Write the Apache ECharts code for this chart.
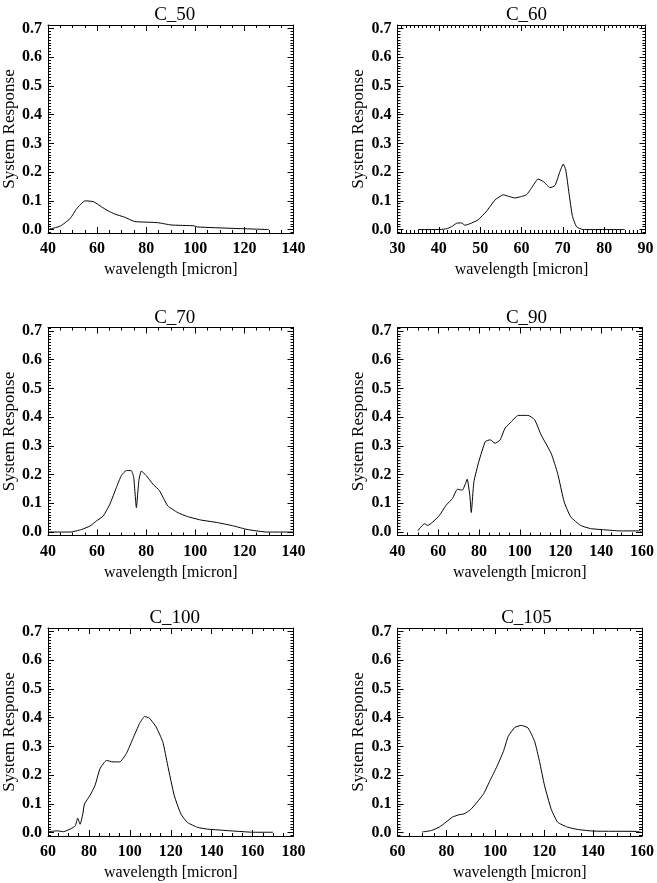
<!DOCTYPE html>
<html>
<head>
<meta charset="utf-8">
<script src="https://cdn.jsdelivr.net/npm/echarts@6/dist/echarts.min.js"></script>
<style>
html,body{margin:0;padding:0;background:#fff;}
#c{width:657px;height:883px;}
</style>
</head>
<body>
<div id="c"></div>
<script>
// ---- data ----
var titles = ['C_50', 'C_60', 'C_70', 'C_90', 'C_100', 'C_105'];

var c50_x = [40, 45, 49, 51.7, 55.1, 58.5, 61.8, 64.5, 67.2, 71.2, 75.3, 84.7, 90.1, 99.5, 100.9, 115.7, 130];
var c50_y = [0.0, 0.012, 0.038, 0.073, 0.100, 0.097, 0.079, 0.065, 0.054, 0.043, 0.028, 0.024, 0.016, 0.013, 0.009, 0.004, 0.0];

var c60_x = [35, 40.3, 41.9, 43.1, 44.3, 45.5, 46.3, 47.5, 49.5, 51.5, 53.6, 55.6, 56.8, 58.4, 60.0, 61.2, 62.4, 64.0, 65.3, 66.9, 68.1, 69.3, 70.1, 70.7, 71.5, 72.3, 73.3, 74.9, 85];
var c60_y = [0.0, 0.0, 0.003, 0.010, 0.022, 0.023, 0.015, 0.020, 0.034, 0.063, 0.103, 0.121, 0.116, 0.110, 0.115, 0.121, 0.144, 0.176, 0.167, 0.146, 0.153, 0.202, 0.228, 0.208, 0.126, 0.048, 0.010, 0.0, 0.0];

var c70_x = [40, 49, 53.7, 57.1, 59.8, 62.5, 65.2, 67.9, 69.9, 71.9, 73.9, 74.9, 76.0, 77.0, 78.0, 80.0, 82.7, 85.4, 88.8, 92.8, 96.8, 102.2, 109.0, 115.7, 121.1, 129.2, 140];
var c70_y = [0.0, 0.0, 0.009, 0.021, 0.039, 0.056, 0.097, 0.156, 0.197, 0.214, 0.214, 0.191, 0.085, 0.179, 0.212, 0.197, 0.167, 0.144, 0.091, 0.068, 0.054, 0.042, 0.033, 0.021, 0.009, 0.0, 0.0];

var c90_x = [50, 51.5, 53.3, 54.9, 57.3, 60.6, 63.8, 67.0, 69.4, 71.8, 73.4, 74.2, 75.5, 76.2, 77.5, 79.9, 83.1, 85.5, 87.9, 90.4, 92.8, 96.0, 99.2, 104.1, 107.3, 110.5, 115.4, 118.6, 121.8, 125.0, 129.9, 134.7, 141.2, 149.2, 158.9, 160];
var c90_y = [0.005, 0.018, 0.029, 0.023, 0.035, 0.058, 0.093, 0.117, 0.149, 0.146, 0.169, 0.184, 0.128, 0.068, 0.175, 0.245, 0.315, 0.321, 0.309, 0.321, 0.362, 0.385, 0.406, 0.406, 0.391, 0.338, 0.274, 0.204, 0.105, 0.053, 0.023, 0.012, 0.008, 0.004, 0.004, 0.0];

var c100_x = [60.5, 64.4, 67.6, 70.8, 73.3, 74.5, 75.7, 77.0, 77.8, 80.5, 83.0, 85.4, 88.6, 91.8, 95.1, 98.3, 101.5, 104.8, 107.2, 109.6, 112.8, 116.1, 118.5, 121.7, 125.0, 128.2, 133.1, 137.9, 149.2, 160.5, 170];
var c100_y = [0.003, 0.006, 0.003, 0.012, 0.023, 0.050, 0.029, 0.064, 0.099, 0.129, 0.164, 0.222, 0.251, 0.246, 0.246, 0.275, 0.327, 0.380, 0.404, 0.398, 0.368, 0.316, 0.234, 0.129, 0.064, 0.035, 0.018, 0.012, 0.006, 0.001, 0.001];

var c105_x = [70.1, 73.8, 77.1, 79.8, 82.5, 85.2, 87.2, 89.9, 92.6, 95.3, 97.9, 100.6, 103.3, 105.3, 108.0, 110.7, 113.4, 116.1, 118.1, 120.1, 122.8, 125.5, 129.5, 133.5, 140.3, 157.7, 160];
var c105_y = [0.002, 0.007, 0.019, 0.036, 0.054, 0.062, 0.065, 0.080, 0.106, 0.136, 0.182, 0.229, 0.282, 0.335, 0.366, 0.373, 0.364, 0.317, 0.247, 0.165, 0.083, 0.036, 0.019, 0.011, 0.005, 0.004, 0.0];

var xRanges = [[40, 140, 20, 4], [30, 90, 10, 10], [40, 140, 20, 4], [40, 160, 20, 4], [60, 180, 20, 4], [60, 160, 20, 4]];
var yTicks = [0, 0.1, 0.2, 0.3, 0.4, 0.5, 0.6, 0.7];
var yMinorTicks = [];
for (var k = -1; k <= 71; k++) { if (k % 10 !== 0) yMinorTicks.push(+(k / 100).toFixed(2)); }
var yRange = [-0.012, 0.712];
var xName = 'wavelength [micron]';
var yName = 'System Response';

var seriesX = [c50_x, c60_x, c70_x, c90_x, c100_x, c105_x];
var seriesY = [c50_y, c60_y, c70_y, c90_y, c100_y, c105_y];

// ---- layout ----
var colLeft = [46, 397.5];
var colWidth = [247.5, 248];
var rowTop = [25, 327.5, 628];
var plotH = 208;
var FONT = '"Liberation Serif", "Times New Roman", serif';

var grids = [], xAxes = [], yAxes = [], series = [], titleArr = [];
for (var i = 0; i < 6; i++) {
  var col = i % 2, row = Math.floor(i / 2);
  grids.push({left: colLeft[col], top: rowTop[row], width: colWidth[col], height: plotH, containLabel: false});
  var xr = xRanges[i];
  var xBase = {
    gridIndex: i, type: 'value', min: xr[0], max: xr[1], interval: xr[2],
    axisLine: {show: true, onZero: false, lineStyle: {color: '#000', width: 1}},
    axisTick: {show: true, inside: true, length: 6, lineStyle: {color: '#000'}},
    minorTick: {show: true, splitNumber: xr[3], length: 3, lineStyle: {color: '#000'}},
    splitLine: {show: false}, minorSplitLine: {show: false}
  };
  var xb = Object.assign({}, xBase, {
    position: 'bottom',
    axisLabel: {show: true, margin: 8, color: '#000', fontFamily: FONT, fontWeight: 'bold', fontSize: 16,
      formatter: function (v) { return String(v); }},
    name: xName, nameLocation: 'middle', nameGap: 29,
    nameTextStyle: {color: '#000', fontFamily: FONT, fontSize: 16}
  });
  var xt = Object.assign({}, xBase, {position: 'top', axisLabel: {show: false}});
  xAxes.push(xb, xt);

  var yMaj = {
    gridIndex: i, type: 'value', min: yRange[0], max: yRange[1],
    axisLine: {show: true, onZero: false, lineStyle: {color: '#000', width: 1}},
    axisTick: {show: true, inside: true, length: 6, customValues: yTicks, lineStyle: {color: '#000'}},
    splitLine: {show: false}
  };
  var yMin = {
    gridIndex: i, type: 'value', min: yRange[0], max: yRange[1],
    axisLine: {show: false},
    axisTick: {show: true, inside: true, length: 3, customValues: yMinorTicks, lineStyle: {color: '#000'}},
    axisLabel: {show: false},
    splitLine: {show: false}
  };
  yAxes.push(Object.assign({}, yMaj, {
    position: 'left',
    axisLabel: {show: true, margin: 6, customValues: yTicks, color: '#000', fontFamily: FONT, fontWeight: 'bold', fontSize: 16,
      formatter: function (v) { return (Math.round(v * 10) / 10).toFixed(1); }},
    name: yName, nameLocation: 'middle', nameGap: 30, nameRotate: 90,
    nameTextStyle: {color: '#000', fontFamily: FONT, fontSize: 17}
  }));
  yAxes.push(Object.assign({}, yMin, {position: 'left'}));
  yAxes.push(Object.assign({}, yMaj, {position: 'right', axisLabel: {show: false}}));
  yAxes.push(Object.assign({}, yMin, {position: 'right'}));

  var pts = [];
  for (var j = 0; j < seriesX[i].length; j++) pts.push([seriesX[i][j], seriesY[i][j]]);
  series.push({
    type: 'line', xAxisIndex: 2 * i, yAxisIndex: 4 * i, data: pts,
    showSymbol: false, symbol: 'none', smooth: 0.15, clip: true,
    lineStyle: {color: '#000', width: 1}, silent: true
  });

  titleArr.push({
    text: titles[i], left: colLeft[col] + colWidth[col] / 2, top: rowTop[row] - 24, textAlign: 'center',
    textStyle: {color: '#000', fontFamily: FONT, fontWeight: 'normal', fontSize: 19}
  });
}

var chart = echarts.init(document.getElementById('c'), null, {renderer: 'canvas'});
chart.setOption({
  animation: false,
  backgroundColor: '#fff',
  title: titleArr,
  grid: grids,
  xAxis: xAxes,
  yAxis: yAxes,
  series: series
});
</script>
</body>
</html>
